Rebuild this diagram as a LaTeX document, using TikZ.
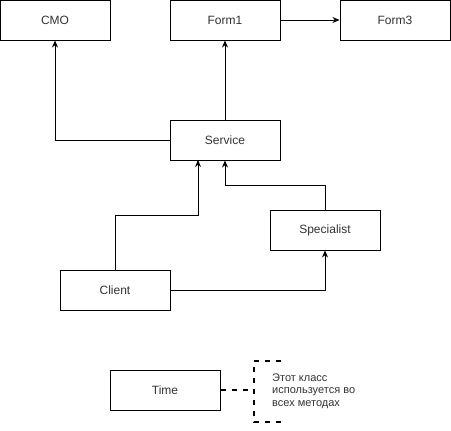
\documentclass[tikz,border=0pt]{standalone}
\usepackage{fontspec}
\setmainfont{Liberation Sans}
\usetikzlibrary{arrows.meta}
\begin{document}
\begin{tikzpicture}[x=1pt,y=-1pt,
  cls/.style={draw=black,line width=1pt,fill=white,minimum width=110pt,minimum height=40pt,
    inner sep=0pt,font=\fontsize{12}{14}\selectfont,text=black!80},
  link/.style={draw=black,line width=1pt,-{Stealth[length=7pt,width=6pt]}},
  note/.style={draw=black,line width=1.5pt,dash pattern=on 5pt off 6pt}]
\useasboundingbox (0,0) rectangle (451,431);
% classes
\node[cls] (cmo) at (55,20) {CMO};
\node[cls] (form1) at (225,20) {Form1};
\node[cls] (form3) at (395,20) {Form3};
\node[cls] (service) at (225,140) {Service};
\node[cls] (spec) at (325,230) {Specialist};
\node[cls] (client) at (115,290) {Client};
\node[cls] (time) at (165,390) {Time};
% dependencies
\draw[link] (service.west) -| (cmo.south);
\draw[link] (service.north) -- (form1.south);
\draw[link] (form1.east) -- (form3.west);
\draw[link] (client.north) |- (198,215) -- (198,160);
\draw[link] (spec.north) |- (225,185) -- (service.south);
\draw[link] (client.east) -| (spec.south);
% comment on Time
\coordinate (br) at (254,390);
\draw[note] (time.east) -- (br);
\draw[note] (281,361) -- (254,361) -- (254,422) -- (281,422);
\node[anchor=west,align=left,font=\fontsize{11}{12.5}\selectfont,text=black!80,inner sep=0pt] (txt) at (272,391)
  {Этот класс\\используется во\\всех методах};
\end{tikzpicture}
\end{document}
